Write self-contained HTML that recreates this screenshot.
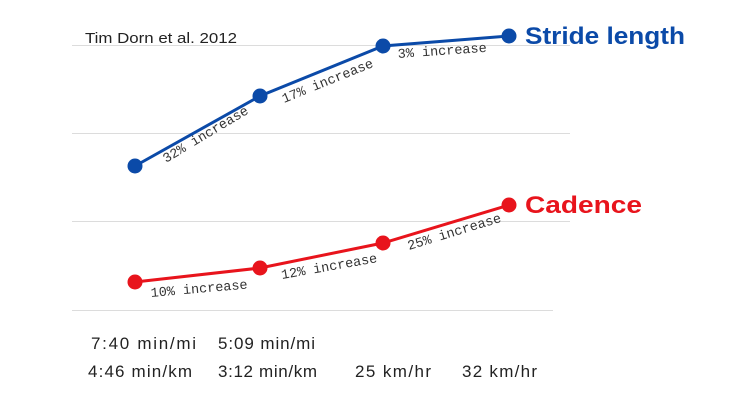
<!DOCTYPE html>
<html><head><style>body{margin:0;background:#fff}svg{display:block}</style></head><body>
<svg width="750" height="400" xmlns="http://www.w3.org/2000/svg">
<g stroke="#dcdcdc" stroke-width="1">
<line x1="72" y1="45.5" x2="570" y2="45.5"/>
<line x1="72" y1="133.5" x2="570" y2="133.5"/>
<line x1="72" y1="221.5" x2="570" y2="221.5"/>
<line x1="72" y1="310.5" x2="553" y2="310.5"/>
</g>
<text x="85" y="43" font-family="Liberation Sans, sans-serif" font-size="15" fill="#222" textLength="152" lengthAdjust="spacingAndGlyphs">Tim Dorn et al. 2012</text>
<polyline points="135,166 260,96 383,46 509,36" fill="none" stroke="#0b4aa8" stroke-width="3"/>
<g fill="#0b4aa8"><circle cx="135" cy="166" r="7.5"/><circle cx="260" cy="96" r="7.5"/><circle cx="383" cy="46" r="7.5"/><circle cx="509" cy="36" r="7.5"/></g>
<text x="525" y="44" font-family="Liberation Sans, sans-serif" font-weight="bold" font-size="24" fill="#0b4aa8" textLength="160" lengthAdjust="spacingAndGlyphs">Stride length</text>
<polyline points="135,282 260,268 383,243 509,205" fill="none" stroke="#e8141c" stroke-width="3"/>
<g fill="#e8141c"><circle cx="135" cy="282" r="7.5"/><circle cx="260" cy="268" r="7.5"/><circle cx="383" cy="243" r="7.5"/><circle cx="509" cy="205" r="7.5"/></g>
<text x="525" y="213" font-family="Liberation Sans, sans-serif" font-weight="bold" font-size="24" fill="#e8141c" textLength="117" lengthAdjust="spacingAndGlyphs">Cadence</text>
<g font-family="Liberation Mono, monospace" font-size="13.5" fill="#333">
<text transform="translate(166,163) rotate(-31)">32% increase</text>
<text transform="translate(284,103) rotate(-22)">17% increase</text>
<text transform="translate(398,58) rotate(-4)">3% increase</text>
<text transform="translate(151,297) rotate(-5)">10% increase</text>
<text transform="translate(282,279) rotate(-10)">12% increase</text>
<text transform="translate(409,250) rotate(-17)">25% increase</text>
</g>
<g font-family="Liberation Sans, sans-serif" font-size="17" fill="#222" lengthAdjust="spacingAndGlyphs">
<text x="91" y="349" textLength="105">7:40 min/mi</text>
<text x="218" y="349" textLength="97">5:09 min/mi</text>
<text x="88" y="377" textLength="104">4:46 min/km</text>
<text x="218" y="377" textLength="99">3:12 min/km</text>
<text x="355" y="377" textLength="76">25 km/hr</text>
<text x="462" y="377" textLength="75">32 km/hr</text>
</g>
</svg>
</body></html>
